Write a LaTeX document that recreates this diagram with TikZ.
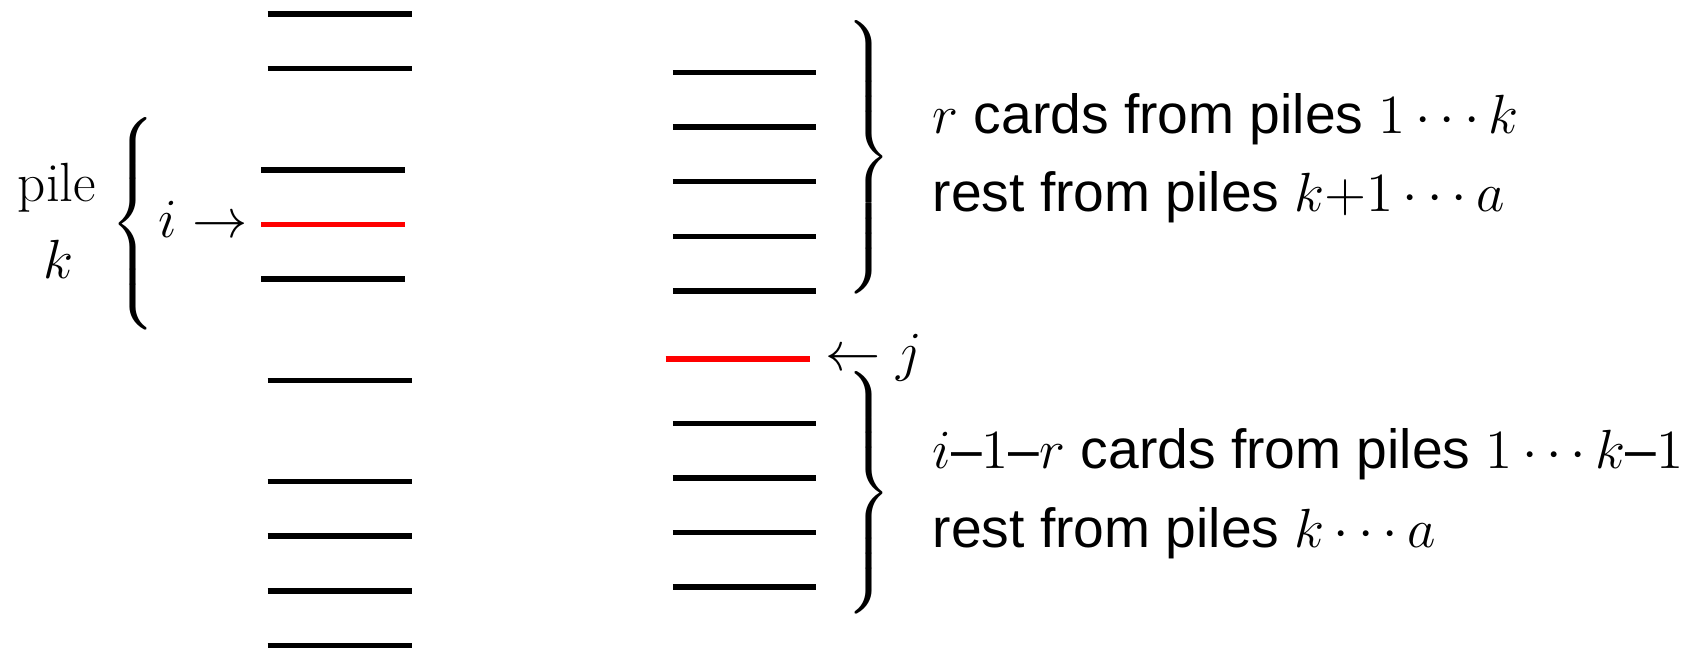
\RequirePackage{fix-cm}
\documentclass[tikz,border=0pt]{standalone}
\usepackage{amsmath}
\usepackage[no-math]{fontspec}
\newfontfamily\arialfont{Liberation Sans}
\newcommand\mybraceL[1]{\nulldelimiterspace=0pt\delimitershortfall=0pt\delimiterfactor=1000$\left\{\vcenter{\hbox{\rule{0pt}{#1}}}\right.$}
\newcommand\mybraceR[1]{\nulldelimiterspace=0pt\delimitershortfall=0pt\delimiterfactor=1000$\left.\vcenter{\hbox{\rule{0pt}{#1}}}\right\}$}
\begin{document}
\begin{tikzpicture}[x=0.01cm,y=-0.01cm,
  card/.style={line width=0.055cm, black},
  redcard/.style={line width=0.055cm, red},
  lbl/.style={inner sep=0pt, font=\fontsize{15.7}{19}\selectfont},
  sans/.style={inner sep=0pt, anchor=base west, font=\fontsize{15.7}{19}\selectfont\arialfont},
  bracenode/.style={inner sep=0pt, font=\fontsize{14.3}{17}\selectfont}]
\useasboundingbox (0,0) rectangle (1699,651);
% left column
\foreach \y in {13.8,68.4,380.3,481.6,536.2,590.8,645.4} \draw[card] (267.6,\y) -- (411.7,\y);
\foreach \y in {169.9,279.1} \draw[card] (261,\y) -- (405.2,\y);
\draw[redcard] (261,224.5) -- (405.2,224.5);
% right column
\foreach \y in {72.7,127.2,181.7,236.3,290.9,423.3,478,532.3,587} \draw[card] (672.8,\y) -- (816.3,\y);
\draw[redcard] (665.5,359) -- (809.6,359);
% braces
\node[bracenode] (lb) at (133,224) {\mybraceL{1.87cm}};
\node[bracenode] (ub) at (869,157.5) {\mybraceR{2.48cm}};
\node[bracenode] (db) at (869,493) {\mybraceR{2.18cm}};
% labels
\node[lbl, anchor=base] (pile) at (57,201.7) {pile};
\node[lbl, anchor=base] (k) at (58,278.3) {$k$};
\node[lbl, anchor=base west] (iarr) at (158,237.8) {$i \rightarrow$};
\node[lbl, anchor=base west] (jarr) at (825,370.8) {$\leftarrow j$};
\node[sans] (t1) at (932,133) {$r$ cards from piles $1\cdots k$};
\node[sans] (t2) at (932,211) {rest from piles $k{+}1\cdots a$};
\node[sans] (t3) at (932,468) {$i$\textendash$1$\textendash$r$ cards from piles $1\cdots k$\textendash$1$};
\node[sans] (t4) at (932,547) {rest from piles $k\cdots a$};
\end{tikzpicture}
\end{document}
